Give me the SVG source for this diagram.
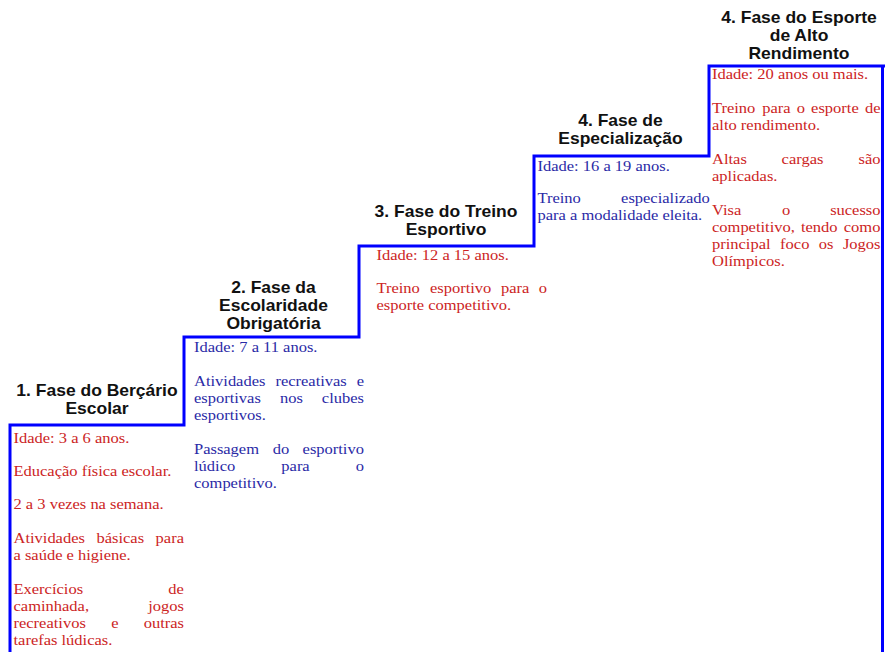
<svg xmlns="http://www.w3.org/2000/svg" width="885" height="652" viewBox="0 0 885 652">
<style>
.t{font-family:"Liberation Sans",Arial,sans-serif;font-weight:bold;font-size:16px;fill:#111;text-anchor:middle}
.b{font-family:"Liberation Serif","Times New Roman",serif;font-size:15px}
.r{fill:#cc2424}
.u{fill:#2a2aa6}
.stair{fill:none;stroke:#0000ff;stroke-width:3;stroke-linejoin:miter;stroke-linecap:butt}
</style>
<rect width="885" height="652" fill="#ffffff"/>
<g id="connectors">
<path class="stair" d="M10,652 V425 H184 V337 H359 V246 H534 V156 H709 V66 H885"/>
<path class="stair" d="M882.5,66 V652" stroke-width="2.5"/>
</g>
<g id="phase1">
<g transform="translate(97,0) scale(1.094,1)">
<text class="t" x="0" y="396">1. Fase do Berçário</text>
<text class="t" x="0" y="414">Escolar</text>
</g>
<g class="b r" transform="translate(13.5,0) scale(1.1,1)">
<text x="0" y="443">Idade: 3 a 6 anos.</text>
<text x="0" y="476">Educação física escolar.</text>
<text x="0" y="509">2 a 3 vezes na semana.</text>
<text y="543"><tspan x="0">Atividades</tspan> <tspan x="75.45">básicas</tspan> <tspan x="129.2">para</tspan></text>
<text x="0" y="560">a saúde e higiene.</text>
<text y="594"><tspan x="0">Exercícios</tspan> <tspan x="140.8">de</tspan></text>
<text y="611"><tspan x="0">caminhada,</tspan> <tspan x="122.45">jogos</tspan></text>
<text y="628"><tspan x="0">recreativos</tspan> <tspan x="88.8">e</tspan> <tspan x="118.4">outras</tspan></text>
<text x="0" y="645">tarefas lúdicas.</text>
</g>
</g>
<g id="phase2">
<g transform="translate(273.5,0) scale(1.094,1)">
<text class="t" x="0" y="293">2. Fase da</text>
<text class="t" x="0" y="311">Escolaridade</text>
<text class="t" x="0" y="329">Obrigatória</text>
</g>
<g class="b u" transform="translate(194,0) scale(1.1,1)">
<text x="0" y="352">Idade: 7 a 11 anos.</text>
<text y="386"><tspan x="0">Atividades</tspan> <tspan x="74">recreativas</tspan> <tspan x="147.9">e</tspan></text>
<text y="403"><tspan x="0">esportivas</tspan> <tspan x="78.1">nos</tspan> <tspan x="116.2">clubes</tspan></text>
<text x="0" y="420">esportivos.</text>
<text y="454"><tspan x="0">Passagem</tspan> <tspan x="71.5">do</tspan> <tspan x="98.7">esportivo</tspan></text>
<text y="471"><tspan x="0">lúdico</tspan> <tspan x="79.4">para</tspan> <tspan x="147.1">o</tspan></text>
<text x="0" y="488">competitivo.</text>
</g>
</g>
<g id="phase3">
<g transform="translate(446,0) scale(1.094,1)">
<text class="t" x="0" y="217">3. Fase do Treino</text>
<text class="t" x="0" y="235">Esportivo</text>
</g>
<g class="b r" transform="translate(376.5,0) scale(1.1,1)">
<text x="0" y="260">Idade: 12 a 15 anos.</text>
<text y="293"><tspan x="0">Treino</tspan> <tspan x="48.6">esportivo</tspan> <tspan x="113.1">para</tspan> <tspan x="147.5">o</tspan></text>
<text x="0" y="310">esporte competitivo.</text>
</g>
</g>
<g id="phase4">
<g transform="translate(620.5,0) scale(1.094,1)">
<text class="t" x="0" y="126">4. Fase de</text>
<text class="t" x="0" y="144">Especialização</text>
</g>
<g class="b u" transform="translate(537.5,0) scale(1.1,1)">
<text x="0" y="171">Idade: 16 a 19 anos.</text>
<text y="203"><tspan x="0">Treino</tspan> <tspan x="76">especializado</tspan></text>
<text x="0" y="220">para a modalidade eleita.</text>
</g>
</g>
<g id="phase5">
<g transform="translate(799,0) scale(1.094,1)">
<text class="t" x="0" y="23">4. Fase do Esporte</text>
<text class="t" x="0" y="41">de Alto</text>
<text class="t" x="0" y="59">Rendimento</text>
</g>
<g class="b r" transform="translate(712,0) scale(1.1,1)">
<text x="0" y="79">Idade: 20 anos ou mais.</text>
<text y="113"><tspan x="0">Treino</tspan> <tspan x="45.6">para</tspan> <tspan x="77">o</tspan> <tspan x="90.1">esporte</tspan> <tspan x="139">de</tspan></text>
<text x="0" y="130">alto rendimento.</text>
<text y="164"><tspan x="0">Altas</tspan> <tspan x="63.3">cargas</tspan> <tspan x="133.2">são</tspan></text>
<text x="0" y="181">aplicadas.</text>
<text y="215"><tspan x="0">Visa</tspan> <tspan x="63.6">o</tspan> <tspan x="107.4">sucesso</tspan></text>
<text y="232"><tspan x="0">competitivo,</tspan> <tspan x="80.9">tendo</tspan> <tspan x="119.8">como</tspan></text>
<text y="249"><tspan x="0">principal</tspan> <tspan x="61.9">foco</tspan> <tspan x="97.1">os</tspan> <tspan x="119">Jogos</tspan></text>
<text x="0" y="266">Olímpicos.</text>
</g>
</g>
</svg>
